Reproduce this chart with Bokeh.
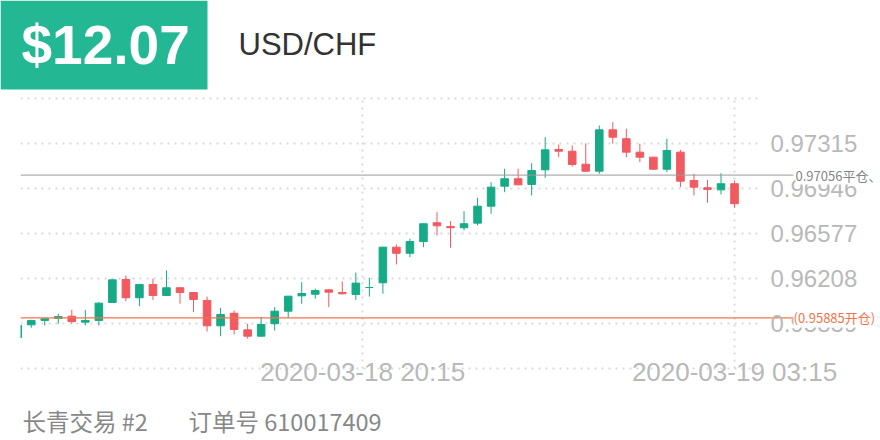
from bokeh.plotting import figure
from bokeh.models import ColumnDataSource, Range1d, FixedTicker, Label, BoxAnnotation
from bokeh.embed import file_html
from bokeh.resources import INLINE

# ---------------- data ----------------
opens = [0.95724, 0.95828, 0.95864, 0.95880, 0.95899, 0.95850, 0.95864, 0.96011, 0.96200, 0.96050,
         0.96159, 0.96069, 0.96132, 0.96093, 0.96028, 0.95820, 0.95923, 0.95787, 0.95735, 0.95837,
         0.95940, 0.96066, 0.96079, 0.96115, 0.96093, 0.96077, 0.96134, 0.96173, 0.96465, 0.96415,
         0.96511, 0.96665, 0.96634, 0.96624, 0.96662, 0.96801, 0.96965, 0.97026, 0.96979, 0.97099,
         0.97266, 0.97252, 0.97145, 0.97088, 0.97427, 0.97354, 0.97244, 0.97203, 0.97104, 0.97244,
         0.97012, 0.96952, 0.96935, 0.96985]
highs = [0.95839, 0.95869, 0.95878, 0.95919, 0.95951, 0.95951, 0.96014, 0.96200, 0.96233, 0.96162,
         0.96206, 0.96274, 0.96135, 0.96096, 0.96060, 0.95968, 0.95946, 0.95837, 0.95891, 0.95973,
         0.96066, 0.96178, 0.96124, 0.96118, 0.96183, 0.96257, 0.96214, 0.96468, 0.96487, 0.96534,
         0.96660, 0.96752, 0.96678, 0.96760, 0.96870, 0.96998, 0.97108, 0.97108, 0.97153, 0.97367,
         0.97307, 0.97299, 0.97317, 0.97463, 0.97490, 0.97436, 0.97313, 0.97206, 0.97354, 0.97263,
         0.97067, 0.97017, 0.97071, 0.97012]
lows = [0.95716, 0.95804, 0.95823, 0.95837, 0.95837, 0.95823, 0.95823, 0.96008, 0.96022, 0.95981,
        0.96033, 0.96066, 0.96001, 0.95932, 0.95773, 0.95735, 0.95749, 0.95714, 0.95732, 0.95782,
        0.95886, 0.96001, 0.96042, 0.95973, 0.96077, 0.96033, 0.96060, 0.96083, 0.96323, 0.96383,
        0.96465, 0.96561, 0.96460, 0.96602, 0.96643, 0.96739, 0.96916, 0.96973, 0.96889, 0.97034,
        0.97203, 0.97126, 0.97085, 0.97067, 0.97313, 0.97203, 0.97162, 0.97101, 0.97080, 0.96957,
        0.96889, 0.96829, 0.96897, 0.96788]
closes = [0.95823, 0.95864, 0.95878, 0.95896, 0.95855, 0.95864, 0.96006, 0.96197, 0.96050, 0.96159,
          0.96069, 0.96132, 0.96093, 0.96036, 0.95820, 0.95913, 0.95790, 0.95735, 0.95831, 0.95940,
          0.96063, 0.96085, 0.96110, 0.96096, 0.96083, 0.96170, 0.96134, 0.96465, 0.96415, 0.96511,
          0.96657, 0.96640, 0.96624, 0.96657, 0.96801, 0.96957, 0.97026, 0.96976, 0.97094, 0.97263,
          0.97252, 0.97143, 0.97088, 0.97427, 0.97367, 0.97244, 0.97203, 0.97104, 0.97258, 0.97006,
          0.96957, 0.96938, 0.96985, 0.96821]

entry_price = 0.95885
exit_price = 0.97056
entry_label = "(0.95885开仓)"
exit_label = "0.97056平仓、"

y_ticks = [0.95839, 0.96208, 0.96577, 0.96946, 0.97315]
y_tick_labels = ["0.95839", "0.96208", "0.96577", "0.96946", "0.97315"]
y_grid_levels = [0.95470, 0.95839, 0.96208, 0.96577, 0.96946, 0.97315, 0.97684]
x_tick_positions = [25.5, 53]
x_tick_labels = ["2020-03-18 20:15", "2020-03-19 03:15"]

price_text = "$12.07"
symbol_text = "USD/CHF"
account_text = "长青交易 #2"
order_text = "订单号 610017409"

# ---------------- styles ----------------
GREEN_HEAD = "#23b893"
GREEN = "#17aa86"
RED = "#f05a60"
ORANGE = "#f2744a"
GRAY_LINE = "#9a9a9a"
GRID = "#d9d9d9"
TICK_TXT = "#b9b9b9"
FONT = "Liberation Sans"
CJK = "Noto Sans CJK SC"

# layout: pixel -> data coordinates
X0_PX, X_STEP = 17.2, 13.525
Y_REF, Y_REF_PX, Y_PX_PER_UNIT = 0.97315, 143.0, 12195.0


def xd(px):
    return (px - X0_PX) / X_STEP


def yd(py):
    return Y_REF - (py - Y_REF_PX) / Y_PX_PER_UNIT


W, H = 880, 440
CHART_L, CHART_R, CHART_T, CHART_B = 20, 762, 98, 368
LINE_R = 793

p = figure(width=W, height=H, output_backend="svg", toolbar_location=None,
           x_range=Range1d(xd(0), xd(W)), y_range=Range1d(yd(H), yd(0)),
           x_axis_location="below", y_axis_location="right",
           min_border_left=0, min_border_right=0, min_border_top=0, min_border_bottom=0)
p.outline_line_color = None
p.background_fill_color = "white"
p.border_fill_color = "white"

# grids
p.ygrid.ticker = FixedTicker(ticks=y_grid_levels)
p.xgrid.ticker = FixedTicker(ticks=x_tick_positions)
for g in (p.xgrid, p.ygrid):
    g.grid_line_color = GRID
    g.grid_line_width = 2
    g.grid_line_dash = "2 5"
p.ygrid.cross_bounds = (xd(CHART_L), xd(CHART_R))
p.xgrid.cross_bounds = (yd(CHART_B), yd(CHART_T))

# axes
yax = p.yaxis[0]
yax.ticker = FixedTicker(ticks=y_ticks)
yax.major_label_overrides = {t: l for t, l in zip(y_ticks, y_tick_labels)}
yax.major_label_standoff = 770 - W
xax = p.xaxis[0]
xax.ticker = FixedTicker(ticks=x_tick_positions)
xax.major_label_overrides = {t: l for t, l in zip(x_tick_positions, x_tick_labels)}
xax.major_label_standoff = 356 - H
for ax, fs in ((yax, "24px"), (xax, "26px")):
    ax.axis_line_color = None
    ax.major_tick_line_color = None
    ax.minor_tick_line_color = None
    ax.major_tick_out = 0
    ax.major_tick_in = 0
    ax.major_label_text_font_size = fs
    ax.major_label_text_color = TICK_TXT
    ax.major_label_text_font = FONT

# candles
idx = list(range(len(opens)))
colors = [GREEN if c >= o else RED for o, c in zip(opens, closes)]
src = ColumnDataSource(dict(
    x=idx, high=highs, low=lows,
    top=[max(o, c) for o, c in zip(opens, closes)],
    bottom=[min(o, c) for o, c in zip(opens, closes)],
    color=colors))
p.segment(x0="x", y0="high", x1="x", y1="low", line_color="color", line_width=1, source=src)
p.vbar(x="x", width=0.56, top="top", bottom="bottom", fill_color="color",
       line_color="color", line_width=1, source=src)

# chart area clip on the left
p.add_layout(BoxAnnotation(left=xd(0), right=xd(CHART_L), top=yd(CHART_T - 4), bottom=yd(CHART_B + 4),
                           fill_color="white", fill_alpha=1, line_color=None))

# trade lines
p.segment(x0=[xd(CHART_L)], x1=[xd(LINE_R)], y0=[exit_price], y1=[exit_price],
          line_color=GRAY_LINE, line_width=1)
p.segment(x0=[xd(CHART_L)], x1=[xd(LINE_R)], y0=[entry_price], y1=[entry_price],
          line_color=ORANGE, line_width=1.3)
p.add_layout(Label(x=xd(795), y=exit_price, text=exit_label, text_baseline="middle",
                   text_font_size="13px", text_color="#858585", text_font=CJK,
                   background_fill_color="white", background_fill_alpha=1))
p.add_layout(Label(x=xd(793), y=entry_price, text=entry_label, text_baseline="middle",
                   text_font_size="13px", text_color=ORANGE, text_font=CJK,
                   background_fill_color="white", background_fill_alpha=1))

# header
p.add_layout(BoxAnnotation(left=xd(0), right=xd(207), top=yd(0), bottom=yd(89),
                           fill_color=GREEN_HEAD, fill_alpha=1, line_color=None))
p.add_layout(Label(x=xd(21), y=yd(44), text=price_text, text_baseline="middle",
                   text_font_size="55px", text_font_style="bold", text_color="white", text_font=FONT))
p.add_layout(Label(x=xd(238), y=yd(44), text=symbol_text, text_baseline="middle",
                   text_font_size="31px", text_color="#333333", text_font=FONT))

# footer
p.add_layout(Label(x=xd(22), y=yd(420), text=account_text, text_baseline="middle",
                   text_font_size="23.5px", text_color="#888888", text_font=CJK))
p.add_layout(Label(x=xd(188), y=yd(420), text=order_text, text_baseline="middle",
                   text_font_size="23.5px", text_color="#888888", text_font=CJK))

open("out.html", "w").write(file_html(p, INLINE))
